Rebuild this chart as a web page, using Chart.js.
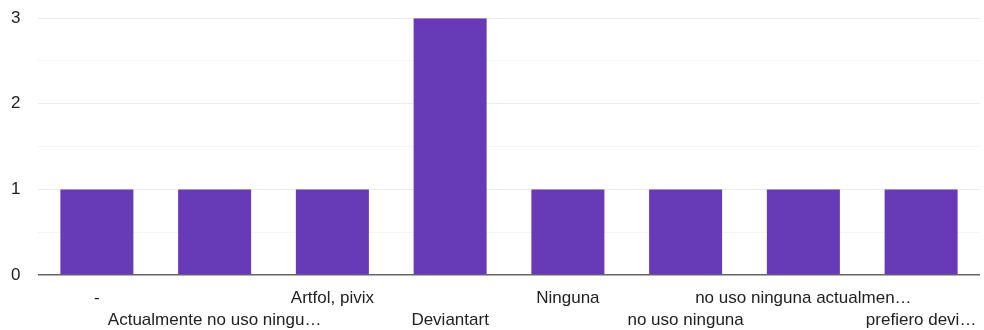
<!DOCTYPE html>
<html>
<head>
<meta charset="utf-8">
<script src="https://cdn.jsdelivr.net/npm/chart.js@4"></script>
<style>
  html, body { margin: 0; padding: 0; background: #fff; }
  #wrap { width: 984px; height: 330px; }
</style>
</head>
<body>
<div id="wrap"><canvas id="c" width="984" height="330"></canvas></div>
<script>
const categories = ["-", "Actualmente no uso ningu\u2026", "Artfol, pivix", "Deviantart", "Ninguna", "no uso ninguna", "no uso ninguna actualmen\u2026", "prefiero devi\u2026"];
const counts = [1, 1, 1, 3, 1, 1, 1, 1];
const yTicks = [0, 1, 2, 3];

const ctx = document.getElementById('c');
new Chart(ctx, {
  type: 'bar',
  data: {
    labels: categories,
    datasets: [{
      data: counts,
      backgroundColor: '#673ab7',
      borderWidth: 0,
      categoryPercentage: 1.0,
      barPercentage: 0.62
    }]
  },
  options: {
    responsive: false,
    animation: false,
    devicePixelRatio: 1,
    layout: { padding: { top: 0, right: 4, left: 11, bottom: 0 } },
    plugins: { legend: { display: false }, tooltip: { enabled: false } },
    scales: {
      x: {
        grid: { display: false },
        border: { display: false },
        ticks: {
          autoSkip: false,
          maxRotation: 0,
          minRotation: 0,
          padding: 4,
          color: '#222',
          font: { family: 'Liberation Sans, Arial, sans-serif', size: 17, lineHeight: '22px' },
          callback: function(v, i) {
            const l = categories[i];
            return i % 2 === 0 ? [l, ''] : ['', l];
          }
        },
        afterFit: function(s) { s.height = 55; }
      },
      y: {
        min: 0,
        max: yTicks[yTicks.length - 1],
        border: { display: false },
        grid: {
          drawTicks: false,
          color: function(c) {
            const v = c.tick.value;
            if (v === 0) return '#666';
            return Number.isInteger(v) ? '#ebebeb' : '#f5f5f5';
          },
          lineWidth: function(c) { return c.tick.value === 0 ? 1.5 : 1; }
        },
        ticks: {
          stepSize: 0.5,
          padding: 8,
          crossAlign: 'far',
          color: '#222',
          font: { family: 'Liberation Sans, Arial, sans-serif', size: 17 },
          callback: function(v) { return yTicks.includes(v) ? String(v) : ''; }
        },
        afterFit: function(s) { s.width = 27; }
      }
    }
  }
});
</script>
</body>
</html>
